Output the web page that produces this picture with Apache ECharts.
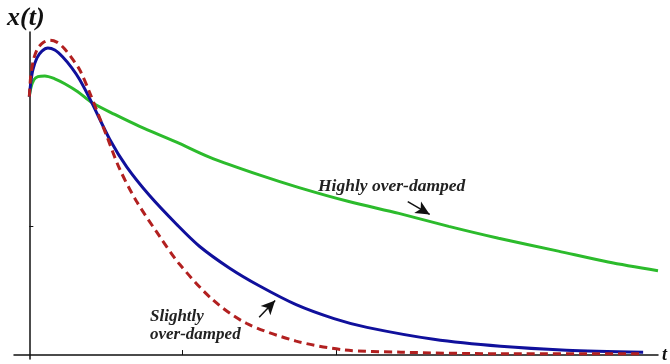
<!DOCTYPE html>
<html><head><meta charset="utf-8">
<script src="https://cdn.jsdelivr.net/npm/echarts@6/dist/echarts.min.js"></script>
<style>html,body{margin:0;padding:0;background:#fff}#c{width:670px;height:364px}</style>
</head><body><div id="c"></div>
<script>
// Slightly over-damped (red dashed)
const tRed = [0,0.01,0.03,0.056,0.095,0.134,0.179,0.225,0.277,0.329,0.394,0.505,0.589,0.700,0.849,0.979,1.194,1.415,1.740,2.052,2.423,3.073,4.003];
const vRed = [1.0,1.084,1.149,1.188,1.211,1.218,1.211,1.188,1.149,1.103,1.015,0.847,0.720,0.594,0.460,0.352,0.215,0.123,0.054,0.020,0.011,0.005,0.005];
// Intermediate (blue)
const tBlue = [0,0.01,0.023,0.049,0.082,0.121,0.166,0.218,0.277,0.329,0.407,0.524,0.635,0.784,0.960,1.109,1.304,1.499,1.740,1.987,2.202,2.637,3.073,3.502,4.003];
const vBlue = [1.0,1.057,1.103,1.149,1.176,1.188,1.180,1.153,1.111,1.065,0.977,0.835,0.728,0.617,0.506,0.421,0.337,0.268,0.195,0.141,0.107,0.061,0.034,0.019,0.011];
// Highly over-damped (green)
const tGreen = [0,0.01,0.03,0.056,0.101,0.166,0.231,0.316,0.407,0.557,0.719,0.960,1.174,1.499,1.759,2.084,2.410,2.735,3.060,3.450,3.775,4.100];
const vGreen = [1.0,1.034,1.065,1.077,1.080,1.069,1.050,1.019,0.977,0.931,0.885,0.824,0.766,0.697,0.648,0.594,0.548,0.498,0.452,0.402,0.360,0.326];
const xTicks = [1, 2];
const yTicks = [0.5];
const labels = {high: 'Highly over-damped', slight1: 'Slightly', slight2: 'over-damped', yName: 'x(t)', xName: 't'};

const pairs = (t, v) => t.map((x, i) => [x, v[i]]);
const font = '"Liberation Serif", "DejaVu Serif", serif';

const chart = echarts.init(document.getElementById('c'));
chart.setOption({
  animation: false,
  backgroundColor: '#fff',
  grid: {left: 14, right: 10, top: 32, bottom: 2},
  title: {text: labels.yName, left: 2, top: 0,
    textStyle: {fontFamily: font, fontStyle: 'italic', fontWeight: 'bold', fontSize: 26, color: '#111'}},
  xAxis: {type: 'value', min: -0.1, max: 4.1, name: labels.xName, nameLocation: 'end', nameGap: 4,
    nameTextStyle: {fontFamily: font, fontStyle: 'italic', fontWeight: 'bold', fontSize: 18, color: '#111', verticalAlign: 'middle'},
    axisLine: {onZero: true, lineStyle: {color: '#111', width: 1.5}},
    axisTick: {show: true, inside: true, length: 5, customValues: xTicks, lineStyle: {color: '#111'}},
    axisLabel: {show: false}, splitLine: {show: false}},
  yAxis: {type: 'value', min: -0.015, max: 1.25,
    axisLine: {show: true, onZero: true, lineStyle: {color: '#111', width: 1.5}},
    axisTick: {show: true, inside: true, length: 4, customValues: yTicks, lineStyle: {color: '#111'}},
    axisLabel: {show: false}, splitLine: {show: false}},
  graphic: [
    {type: 'text', left: 318, top: 177, style: {text: labels.high, font: 'italic bold 17.5px ' + font, fill: '#222'}},
    {type: 'text', left: 150, top: 308, style: {text: labels.slight1, font: 'italic bold 17px ' + font, fill: '#222'}},
    {type: 'text', left: 150, top: 326, style: {text: labels.slight2, font: 'italic bold 17px ' + font, fill: '#222'}}
  ],
  series: [
    {type: 'line', name: 'green', data: pairs(tGreen, vGreen), smooth: 0.3, showSymbol: false,
      lineStyle: {color: '#2cbb2c', width: 3}, z: 2,
      markLine: {silent: true, symbol: ['none', 'arrow'], symbolSize: [10, 14], label: {show: false},
        lineStyle: {color: '#111', width: 1.5, type: 'solid'},
        data: [[{coord: [2.468, 0.594]}, {coord: [2.611, 0.544]}],
               [{coord: [1.499, 0.146]}, {coord: [1.603, 0.211]}]]}},
    {type: 'line', name: 'blue', data: pairs(tBlue, vBlue), smooth: 0.3, showSymbol: false,
      lineStyle: {color: '#10109c', width: 3}, z: 3},
    {type: 'line', name: 'red', data: pairs(tRed, vRed), smooth: 0.3, showSymbol: false,
      lineStyle: {color: '#b22020', width: 3, type: [8, 5]}, z: 4}
  ]
});
</script></body></html>
